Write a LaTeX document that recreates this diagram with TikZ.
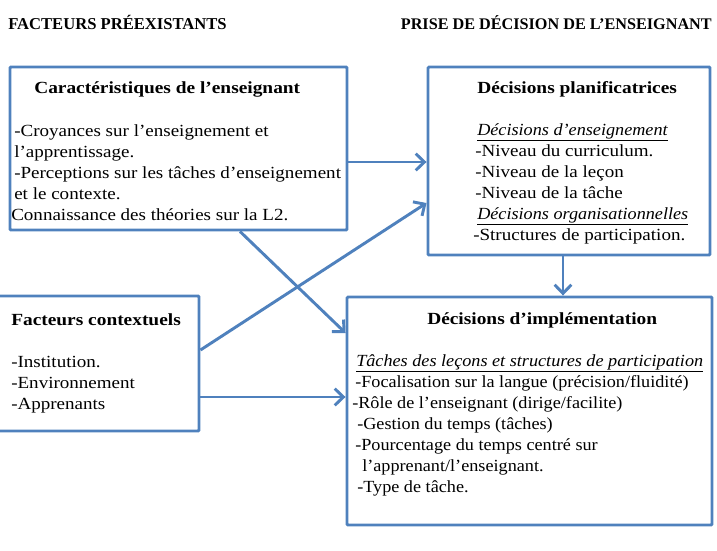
\documentclass[tikz,border=0pt]{standalone}
\usepackage{fontspec}
\setmainfont[FakeStretch=1.12]{Liberation Serif}
\newfontfamily\implfont[FakeStretch=1.07]{Liberation Serif}
\newfontfamily\titlefont[FakeStretch=1.14]{Liberation Serif}
\newfontfamily\headfont{Liberation Serif}
\usetikzlibrary{arrows.meta,fit}
\definecolor{boxblue}{RGB}{79,129,189}
\tikzset{
  box/.style={draw=boxblue, line width=2.2pt, inner sep=0pt, rounded corners=0.8pt},
  flow/.style={draw=boxblue, line width=2.2pt, -{Straight Barb[length=6.5pt,width=12.5pt]}},
  txt/.style={anchor=base west, inner sep=0pt, font=\fontsize{12.75}{15}\selectfont},
  impltxt/.style={txt, font=\fontsize{12.75}{15}\selectfont\implfont},
  boxtitle/.style={txt, font=\fontsize{12.75}{15}\selectfont\titlefont\bfseries},
  head/.style={anchor=base west, inner sep=0pt, font=\fontsize{12.45}{15}\selectfont\headfont\bfseries},
}
\newcommand{\souligne}[1]{\underline{\implfont\itshape #1}}
\begin{document}
\begin{tikzpicture}[x=0.75pt,y=-0.75pt]
\useasboundingbox (0,0) rectangle (717,550);
% titres
\node[head] (hpre) at (8,29) {FACTEURS PRÉEXISTANTS};
\node[head, anchor=base east, font=\fontsize{12.15}{15}\selectfont\headfont\bfseries] (hdec) at (712,29) {PRISE DE DÉCISION DE L’ENSEIGNANT};
% cadres
\node[box, fit={(10,67) (347,230)}] (cara) {};
\node[box, fit={(428,67) (710,255)}] (plan) {};
\node[box, fit={(-3,296) (199,431)}] (ctx) {};
\node[box, fit={(347,297) (712,525)}] (impl) {};
% caracteristiques de l'enseignant
\node[boxtitle] (caratitle) at (34,93) {Caractéristiques de l’enseignant};
\foreach \x/\t [count=\i] in {14/{-Croyances sur l’enseignement et},
    14/{l’apprentissage.},
    14/{-Perceptions sur les tâches d’enseignement},
    14/{et le contexte.},
    11/{Connaissance des théories sur la L2.}}
  \node[txt] (cara\i) at (\x,136+21*\i-21) {\t};
% decisions planificatrices
\node[boxtitle] (plantitle) at (477,93) {Décisions planificatrices};
\foreach \x/\t [count=\i] in {477/{\souligne{Décisions d’enseignement}},
    475/{-Niveau du curriculum.},
    475/{-Niveau de la leçon},
    475/{-Niveau de la tâche},
    477/{\souligne{Décisions organisationnelles}},
    473/{-Structures de participation.}}
  \node[txt] (plan\i) at (\x,135+21*\i-21) {\t};
% facteurs contextuels
\node[boxtitle] (ctxtitle) at (11,325) {Facteurs contextuels};
\foreach \t [count=\i] in {-Institution., -Environnement, -Apprenants}
  \node[txt] (ctx\i) at (11,367+21*\i-21) {\t};
% decisions d'implementation
\node[boxtitle] (impltitle) at (427,324) {Décisions d’implémentation};
\foreach \x/\t [count=\i] in {356/{\souligne{Tâches des leçons et structures de participation}},
    355/{-Focalisation sur la langue (précision/fluidité)},
    352/{-Rôle de l’enseignant (dirige/facilite)},
    357/{-Gestion du temps (tâches)},
    355/{-Pourcentage du temps centré sur},
    362/{l’apprenant/l’enseignant.},
    357/{-Type de tâche.}}
  \node[impltxt] (impl\i) at (\x,366+21*\i-21) {\t};
% fleches
\draw[flow] (cara.east |- 0,162) -- (plan.west |- 0,162);
\draw[flow] (ctx.east |- 0,350) -- (plan.west |- 0,203);
\draw[flow] (cara.south -| 240,0) -- (impl.west |- 0,333);
\draw[flow] (ctx.east |- 0,397) -- (impl.west |- 0,397);
\draw[flow] (plan.south -| 563,0) -- (impl.north -| 563,0);
\end{tikzpicture}
\end{document}
